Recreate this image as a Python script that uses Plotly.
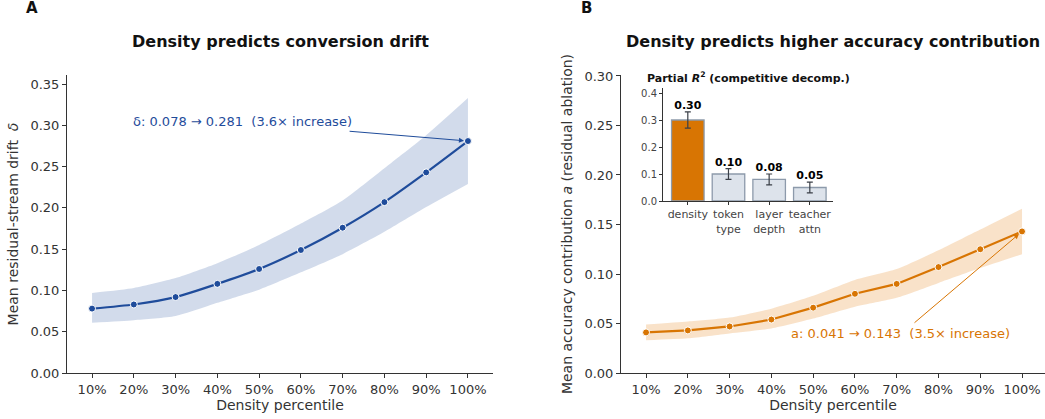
import plotly.graph_objects as go

# ---------------- data ----------------
percentiles = ["10%", "20%", "30%", "40%", "50%", "60%", "70%", "80%", "90%", "100%"]

drift_mean = [0.078, 0.083, 0.092, 0.108, 0.126, 0.149, 0.176, 0.207, 0.243, 0.281]
drift_lo = [0.061, 0.064, 0.069, 0.085, 0.101, 0.122, 0.144, 0.171, 0.201, 0.229]
drift_hi = [0.097, 0.103, 0.115, 0.133, 0.155, 0.181, 0.209, 0.248, 0.288, 0.333]

acc_mean = [0.041, 0.043, 0.047, 0.054, 0.066, 0.080, 0.090, 0.107, 0.125, 0.143]
acc_lo = [0.033, 0.035, 0.040, 0.045, 0.055, 0.067, 0.076, 0.091, 0.106, 0.120]
acc_hi = [0.049, 0.052, 0.056, 0.065, 0.078, 0.094, 0.105, 0.124, 0.145, 0.166]

factors = ["density", "token<br>type", "layer<br>depth", "teacher<br>attn"]
partial_r2 = [0.30, 0.10, 0.08, 0.05]
partial_err = [0.03, 0.02, 0.02, 0.02]

BLUE = "#1f4c9b"
BLUE_BAND = "rgba(31,76,155,0.20)"
ORANGE = "#d87503"
ORANGE_BAND = "rgba(230,140,40,0.25)"
FONT = "DejaVu Sans"
TXT = "#333333"

W, H = 1045, 419
def px(x):
    return x / W
def py(y):
    return 1 - y / H

idx = list(range(len(percentiles)))

fig = go.Figure()

# ---------- Panel A ----------
fig.add_trace(go.Scatter(x=idx, y=drift_hi, mode="lines", line=dict(width=0, shape="spline", smoothing=0.6),
                         hoverinfo="skip", showlegend=False, xaxis="x", yaxis="y"))
fig.add_trace(go.Scatter(x=idx, y=drift_lo, mode="lines", line=dict(width=0, shape="spline", smoothing=0.6),
                         fill="tonexty", fillcolor=BLUE_BAND, hoverinfo="skip",
                         showlegend=False, xaxis="x", yaxis="y"))
fig.add_trace(go.Scatter(x=idx, y=drift_mean, mode="lines+markers",
                         line=dict(color=BLUE, width=2.2, shape="spline", smoothing=0.6),
                         marker=dict(size=7, color=BLUE, line=dict(color="white", width=1)),
                         showlegend=False, xaxis="x", yaxis="y"))

# ---------- Panel B ----------
fig.add_trace(go.Scatter(x=idx, y=acc_hi, mode="lines", line=dict(width=0, shape="spline", smoothing=0.6),
                         hoverinfo="skip", showlegend=False, xaxis="x2", yaxis="y2"))
fig.add_trace(go.Scatter(x=idx, y=acc_lo, mode="lines", line=dict(width=0, shape="spline", smoothing=0.6),
                         fill="tonexty", fillcolor=ORANGE_BAND, hoverinfo="skip",
                         showlegend=False, xaxis="x2", yaxis="y2"))
fig.add_trace(go.Scatter(x=idx, y=acc_mean, mode="lines+markers",
                         line=dict(color=ORANGE, width=2.2),
                         marker=dict(size=7, color=ORANGE, line=dict(color="white", width=1)),
                         showlegend=False, xaxis="x2", yaxis="y2"))

# ---------- Inset ----------
bar_colors = [ORANGE] + ["#dde3eb"] * (len(factors) - 1)
fig.add_trace(go.Bar(x=list(range(len(factors))), y=partial_r2, width=0.8,
                     marker=dict(color=bar_colors, line=dict(color="#8d9aab", width=1.3)),
                     error_y=dict(type="data", array=partial_err, color="#3a3f47",
                                  thickness=1.2, width=3),
                     showlegend=False, xaxis="x3", yaxis="y3"))
fig.add_trace(go.Scatter(x=list(range(len(factors))),
                         y=[v + e for v, e in zip(partial_r2, partial_err)],
                         mode="text", text=[f"<b>{v:.2f}</b>" for v in partial_r2],
                         textposition="top center",
                         textfont=dict(family=FONT, size=11, color="black"),
                         showlegend=False, xaxis="x3", yaxis="y3"))

axis_common = dict(showline=True, linecolor=TXT, linewidth=1, ticks="outside",
                   ticklen=4, tickcolor=TXT, showgrid=False, zeroline=False, automargin=False,
                   tickfont=dict(family=FONT, size=13, color=TXT))

y_top = py(75)
y_bot = py(373)

fig.update_layout(
    width=W, height=H,
    margin=dict(l=0, r=0, t=0, b=0, autoexpand=False),
    paper_bgcolor="white", plot_bgcolor="white",
    font=dict(family=FONT, color=TXT),
    xaxis=dict(domain=[px(67), px(493)], range=[-0.6, 9.6], tickvals=idx, ticktext=percentiles,
               title=dict(text="Density percentile", font=dict(size=14, color=TXT), standoff=4),
               anchor="y", **axis_common),
    yaxis=dict(domain=[y_bot, y_top], range=[0, 0.361], tickvals=[0, 0.05, 0.1, 0.15, 0.2, 0.25, 0.3, 0.35],
               tickformat=".2f",
               title=dict(text="Mean residual-stream drift  <i>δ</i>", font=dict(size=14, color=TXT), standoff=8),
               anchor="x", **axis_common),
    xaxis2=dict(domain=[px(621), 1.0], range=[-0.6, 9.55], tickvals=idx, ticktext=percentiles,
                title=dict(text="Density percentile", font=dict(size=14, color=TXT), standoff=4),
                anchor="y2", **axis_common),
    yaxis2=dict(domain=[y_bot, y_top], range=[0, 0.301], tickvals=[0, 0.05, 0.1, 0.15, 0.2, 0.25, 0.3],
                tickformat=".2f",
                title=dict(text="Mean accuracy contribution <i>a</i> (residual ablation)",
                           font=dict(size=14, color=TXT), standoff=8),
                anchor="x2", **axis_common),
    xaxis3=dict(domain=[px(663), px(833)], range=[-0.61, 3.57], tickvals=list(range(len(factors))),
                ticktext=factors, anchor="y3", showline=True, linecolor="#333", linewidth=1,
                ticks="outside", ticklen=3, tickcolor="#333", showgrid=False, zeroline=False,
                automargin=False, tickfont=dict(family=FONT, size=11, color="#444")),
    yaxis3=dict(domain=[py(201), py(88)], range=[0, 0.4185], tickvals=[0, 0.1, 0.2, 0.3, 0.4],
                tickformat=".1f", anchor="x3", showline=True, linecolor="#333", linewidth=1,
                ticks="outside", ticklen=3, tickcolor="#333", showgrid=False, zeroline=False,
                automargin=False, tickfont=dict(family=FONT, size=10, color="#444")),
    shapes=[dict(type="rect", xref="paper", yref="paper", x0=px(663), x1=px(833),
                 y0=py(201), y1=py(88), fillcolor="#f6f8fb", line=dict(width=0), layer="below")],
)

annotations = [
    dict(text="<b>A</b>", x=px(24), y=py(8), xref="paper", yref="paper", showarrow=False,
         xanchor="left", yanchor="middle", font=dict(family=FONT, size=15, color="#111")),
    dict(text="<b>B</b>", x=px(579), y=py(8), xref="paper", yref="paper", showarrow=False,
         xanchor="left", yanchor="middle", font=dict(family=FONT, size=15, color="#111")),
    dict(text="<b>Density predicts conversion drift</b>", x=px(280), y=py(42), xref="paper", yref="paper",
         showarrow=False, xanchor="center", yanchor="middle", font=dict(family=FONT, size=16, color="#111")),
    dict(text="<b>Density predicts higher accuracy contribution</b>", x=px(833), y=py(42), xref="paper",
         yref="paper", showarrow=False, xanchor="center", yanchor="middle",
         font=dict(family=FONT, size=16, color="#111")),
    dict(text="<b>Partial <i>R</i><sup>2</sup> (competitive decomp.)</b>", x=px(748), y=py(78),
         xref="paper", yref="paper", showarrow=False, xanchor="center", yanchor="middle",
         font=dict(family=FONT, size=11, color="#111")),
    # Panel A annotation
    dict(text=f"δ: {drift_mean[0]:.3f} → {drift_mean[-1]:.3f}  ({drift_mean[-1]/drift_mean[0]:.1f}× increase)",
         x=3.61, y=0.305, xref="x", yref="y", showarrow=False, xanchor="center", yanchor="middle",
         font=dict(family=FONT, size=13, color=BLUE)),
    dict(text="", x=9, y=drift_mean[-1], xref="x", yref="y", ax=6.13, ay=0.293, axref="x", ayref="y",
         showarrow=True, arrowhead=2, arrowsize=1, arrowwidth=1, arrowcolor=BLUE, standoff=4),
    # Panel B annotation
    dict(text=f"a: {acc_mean[0]:.3f} → {acc_mean[-1]:.3f}  ({acc_mean[-1]/acc_mean[0]:.1f}× increase)",
         x=6.09, y=0.0404, xref="x2", yref="y2", showarrow=False, xanchor="center", yanchor="middle",
         font=dict(family=FONT, size=13, color=ORANGE)),
    dict(text="", x=9, y=acc_mean[-1], xref="x2", yref="y2", ax=6.39, ay=0.0495, axref="x2", ayref="y2",
         showarrow=True, arrowhead=2, arrowsize=1, arrowwidth=1, arrowcolor=ORANGE, standoff=4),
]
fig.update_layout(annotations=annotations)

fig.write_html("out.html", config={"displayModeBar": False},
               post_script="document.body.style.margin='0';document.body.style.overflow='hidden';")
